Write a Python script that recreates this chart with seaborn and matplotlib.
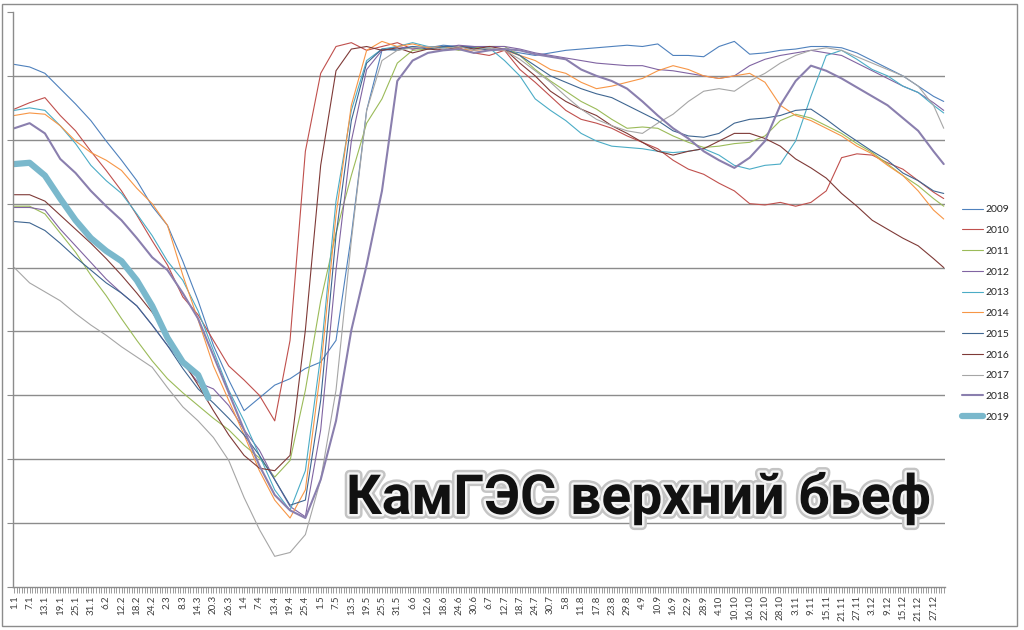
import matplotlib
matplotlib.use("Agg")
import matplotlib.pyplot as plt
import matplotlib.patheffects as pe
from matplotlib.patches import Rectangle
from matplotlib.ticker import MultipleLocator
import numpy as np
import pandas as pd
import seaborn as sns

# day of year (0 = 1 Jan), sampled every 6 days plus the last day
DAYS = list(range(0, 361, 6)) + [364]
DAYS_2019 = list(range(0, 73, 6)) + [76]

TICK_DAYS = list(range(0, 361, 6))
TICK_LABELS = [
    "1.1", "7.1", "13.1", "19.1", "25.1", "31.1", "6.2", "12.2", "18.2", "24.2",
    "2.3", "8.3", "14.3", "20.3", "26.3", "1.4", "7.4", "13.4", "19.4", "25.4",
    "1.5", "7.5", "13.5", "19.5", "25.5", "31.5", "6.6", "12.6", "18.6", "24.6",
    "30.6", "6.7", "12.7", "18.7", "24.7", "30.7", "5.8", "11.8", "17.8", "23.8",
    "29.8", "4.9", "10.9", "16.9", "22.9", "28.9", "4.10", "10.10", "16.10", "22.10",
    "28.10", "3.11", "9.11", "15.11", "21.11", "27.11", "3.12", "9.12", "15.12", "21.12",
    "27.12",
]

# upper pool level, m
LEVEL_2009 = [
    108.09, 108.07, 108.02, 107.90, 107.78, 107.65, 107.49, 107.34, 107.18, 106.98,
    106.83, 106.55, 106.24, 105.89, 105.62, 105.38, 105.48, 105.58, 105.63, 105.71,
    105.76, 105.93, 106.75, 107.73, 108.20, 108.21, 108.23, 108.22, 108.24, 108.23,
    108.23, 108.21, 108.20, 108.18, 108.16, 108.18, 108.20, 108.21, 108.22, 108.23,
    108.24, 108.23, 108.25, 108.16, 108.16, 108.15, 108.23, 108.27, 108.17, 108.18,
    108.20, 108.21, 108.23, 108.23, 108.22, 108.18, 108.12, 108.06, 108.00, 107.92,
    107.84, 107.80,
]
LEVEL_2010 = [
    107.74, 107.79, 107.83, 107.69, 107.57, 107.41, 107.26, 107.10, 106.91, 106.71,
    106.52, 106.27, 106.13, 105.93, 105.73, 105.62, 105.50, 105.30, 105.93, 107.41,
    108.02, 108.23, 108.26, 108.20, 108.23, 108.26, 108.21, 108.23, 108.20, 108.22,
    108.18, 108.16, 108.20, 108.05, 107.95, 107.84, 107.73, 107.66, 107.63, 107.59,
    107.53, 107.48, 107.43, 107.34, 107.27, 107.23, 107.16, 107.10, 107.00, 106.99,
    107.01, 106.98, 107.01, 107.10, 107.36, 107.39, 107.38, 107.32, 107.27, 107.18,
    107.09, 107.04,
]
LEVEL_2011 = [
    106.98, 106.98, 106.92, 106.77, 106.62, 106.44, 106.28, 106.10, 105.93, 105.77,
    105.63, 105.52, 105.42, 105.32, 105.23, 105.11, 105.01, 104.86, 104.99, 105.54,
    106.24, 106.77, 107.22, 107.63, 107.82, 108.10, 108.20, 108.21, 108.23, 108.20,
    108.22, 108.23, 108.23, 108.16, 108.05, 107.96, 107.88, 107.80, 107.74, 107.66,
    107.59, 107.60, 107.59, 107.53, 107.48, 107.44, 107.45, 107.47, 107.48, 107.53,
    107.65, 107.70, 107.67, 107.61, 107.55, 107.47, 107.40, 107.31, 107.22, 107.14,
    107.04, 106.98,
]
LEVEL_2012 = [
    106.97, 106.97, 106.95, 106.80, 106.67, 106.54, 106.41, 106.30, 106.20, 106.05,
    105.89, 105.75, 105.60, 105.55, 105.42, 105.23, 105.07, 104.84, 104.63, 104.55,
    105.23, 106.48, 107.49, 108.05, 108.20, 108.23, 108.21, 108.23, 108.22, 108.24,
    108.23, 108.23, 108.23, 108.21, 108.18, 108.16, 108.14, 108.12, 108.10, 108.09,
    108.08, 108.08, 108.05, 108.04, 108.02, 108.00, 107.98, 108.00, 108.08, 108.13,
    108.16, 108.18, 108.20, 108.18, 108.16, 108.10, 108.04, 107.98, 107.92, 107.87,
    107.79, 107.73,
]
LEVEL_2013 = [
    107.73, 107.75, 107.73, 107.61, 107.47, 107.30, 107.18, 107.08, 106.92, 106.75,
    106.55, 106.40, 106.16, 105.85, 105.54, 105.30, 105.03, 104.76, 104.60, 104.91,
    105.81, 107.02, 107.73, 108.12, 108.21, 108.23, 108.26, 108.23, 108.22, 108.23,
    108.21, 108.22, 108.12, 108.00, 107.82, 107.73, 107.65, 107.55, 107.49, 107.45,
    107.44, 107.43, 107.41, 107.40, 107.41, 107.43, 107.38, 107.30, 107.27, 107.30,
    107.31, 107.49, 107.84, 108.16, 108.20, 108.13, 108.05, 108.00, 107.92, 107.87,
    107.77, 107.71,
]
LEVEL_2014 = [
    107.69, 107.71, 107.70, 107.61, 107.49, 107.40, 107.34, 107.26, 107.12, 107.00,
    106.83, 106.44, 106.09, 105.73, 105.46, 105.19, 104.91, 104.68, 104.54, 104.76,
    105.70, 106.91, 107.77, 108.20, 108.27, 108.23, 108.25, 108.22, 108.23, 108.21,
    108.20, 108.21, 108.20, 108.16, 108.12, 108.05, 108.02, 107.95, 107.90, 107.92,
    107.95, 107.98, 108.04, 108.08, 108.05, 108.00, 107.98, 108.00, 108.02, 107.95,
    107.77, 107.69, 107.65, 107.59, 107.53, 107.45, 107.39, 107.30, 107.22, 107.10,
    106.95, 106.88,
]
LEVEL_2015 = [
    106.86, 106.85, 106.79, 106.69, 106.58, 106.48, 106.38, 106.30, 106.20, 106.05,
    105.89, 105.71, 105.55, 105.44, 105.32, 105.19, 105.03, 104.84, 104.64, 104.68,
    105.46, 106.75, 107.65, 108.10, 108.21, 108.20, 108.23, 108.21, 108.23, 108.23,
    108.22, 108.20, 108.21, 108.16, 108.08, 108.00, 107.95, 107.90, 107.86, 107.83,
    107.77, 107.71, 107.65, 107.57, 107.53, 107.52, 107.55, 107.63, 107.66, 107.67,
    107.69, 107.73, 107.74, 107.66, 107.57, 107.49, 107.41, 107.34, 107.24, 107.18,
    107.10, 107.08,
]
LEVEL_2016 = [
    107.07, 107.07, 107.02, 106.91, 106.80, 106.69, 106.57, 106.44, 106.30, 106.15,
    105.97, 105.77, 105.58, 105.38, 105.19, 105.03, 104.93, 104.91, 105.03, 106.01,
    107.30, 108.04, 108.21, 108.23, 108.20, 108.22, 108.18, 108.21, 108.20, 108.23,
    108.21, 108.23, 108.21, 108.10, 108.00, 107.88, 107.80, 107.74, 107.69, 107.61,
    107.55, 107.48, 107.41, 107.38, 107.41, 107.43, 107.49, 107.55, 107.55, 107.51,
    107.45, 107.35, 107.28, 107.20, 107.08, 106.98, 106.87, 106.80, 106.73, 106.67,
    106.57, 106.50,
]
LEVEL_2017 = [
    106.50, 106.38, 106.31, 106.24, 106.14, 106.05, 105.97, 105.88, 105.80, 105.72,
    105.56, 105.41, 105.30, 105.17, 104.99, 104.70, 104.45, 104.24, 104.27, 104.41,
    104.84, 105.54, 106.71, 107.73, 108.12, 108.20, 108.22, 108.23, 108.21, 108.23,
    108.20, 108.22, 108.20, 108.13, 108.04, 107.95, 107.84, 107.74, 107.66, 107.61,
    107.57, 107.55, 107.63, 107.70, 107.80, 107.88, 107.90, 107.88, 107.96, 108.02,
    108.10, 108.16, 108.20, 108.22, 108.20, 108.15, 108.10, 108.05, 108.00, 107.92,
    107.77, 107.59,
]
LEVEL_2018 = [
    107.59, 107.63, 107.55, 107.35, 107.24, 107.10, 106.98, 106.87, 106.73, 106.58,
    106.48, 106.30, 106.10, 105.81, 105.52, 105.23, 104.95, 104.72, 104.60, 104.54,
    104.84, 105.30, 106.01, 106.52, 107.10, 107.96, 108.12, 108.18, 108.20, 108.21,
    108.18, 108.20, 108.21, 108.20, 108.17, 108.15, 108.13, 108.05, 108.00, 107.96,
    107.90, 107.80, 107.69, 107.59, 107.51, 107.41, 107.34, 107.28, 107.36, 107.49,
    107.77, 107.96, 108.08, 108.04, 107.98, 107.91, 107.84, 107.77, 107.67, 107.57,
    107.41, 107.31,
]
LEVEL_2019 = [
    107.31, 107.32, 107.22, 107.04, 106.87, 106.73, 106.63, 106.55, 106.40, 106.20,
    105.95, 105.76, 105.66, 105.48,
]

YEARS = [2009, 2010, 2011, 2012, 2013, 2014, 2015, 2016, 2017, 2018, 2019]
SERIES = [LEVEL_2009, LEVEL_2010, LEVEL_2011, LEVEL_2012, LEVEL_2013, LEVEL_2014,
          LEVEL_2015, LEVEL_2016, LEVEL_2017, LEVEL_2018, LEVEL_2019]
COLORS = ["#4f81bd", "#c0504d", "#9bbb59", "#8064a2", "#4bacc6", "#f79646",
          "#3f6691", "#7f3a37", "#a6a6a6", "#8a7fae", "#7ab8cc"]
WIDTHS = [0.8] * 9 + [1.5, 4.5]

rows = []
for year, levels in zip(YEARS, SERIES):
    days = DAYS_2019 if year == 2019 else DAYS
    for d, v in zip(days, levels):
        rows.append({"year": year, "day": d, "level": v})
df = pd.DataFrame(rows)

sns.set_theme(style="white")
plt.rcParams["font.family"] = ["Lato", "DejaVu Sans"]

fig, ax = plt.subplots(figsize=(10.24, 6.30), dpi=100)
fig.subplots_adjust(left=13 / 1024, right=945 / 1024, bottom=1 - 587 / 630, top=1 - 12 / 630)

for year, color, lw in zip(YEARS, COLORS, WIDTHS):
    sns.lineplot(data=df[df["year"] == year], x="day", y="level", color=color,
                 linewidth=lw, label=str(year), ax=ax)

ax.set_xlim(-0.5, 364.5)
ax.set_ylim(104.0, 108.5)
ax.set_yticks(np.arange(104.0, 108.51, 0.5))
ax.set_yticklabels([])
ax.grid(axis="y", color="#8c8c8c", linewidth=1)
gl = ax.get_ygridlines()
gl[0].set_visible(False)
gl[-1].set_visible(False)

ax.set_xticks(TICK_DAYS)
ax.set_xticklabels(TICK_LABELS, rotation=90, fontsize=7, color="#404040")
ax.xaxis.set_minor_locator(MultipleLocator(1))
ax.tick_params(axis="x", which="both", bottom=True, length=4, width=0.6, color="#8c8c8c", pad=2)
ax.tick_params(axis="y", which="major", left=True, length=4, width=0.8, color="#8c8c8c")
ax.set_xlabel("")
ax.set_ylabel("")
for side in ["top", "right"]:
    ax.spines[side].set_visible(False)
for side in ["left", "bottom"]:
    ax.spines[side].set_color("#8c8c8c")
    ax.spines[side].set_linewidth(1)

ax.legend(loc="upper left", bbox_to_anchor=(962 / 1024, 1 - 205 / 630),
          bbox_transform=fig.transFigure, frameon=False, fontsize=7.5,
          handlelength=2.0, handletextpad=0.3, labelspacing=1.1,
          borderaxespad=0, borderpad=0)

title = fig.text(346 / 1024, 1 - 514 / 630, "КамГЭС верхний бьеф", fontsize=44,
                 fontweight="bold", family=["Roboto", "DejaVu Sans"],
                 color="#111111", ha="left", va="baseline",
                 path_effects=[pe.Stroke(linewidth=7, foreground="#c4c4c4"),
                               pe.Stroke(linewidth=3.5, foreground="#f4f4f4"),
                               pe.Normal()])
# fit the title to the width it takes in the reference (about 585 px)
fig.canvas.draw()
w = title.get_window_extent().width
title.set_fontsize(44 * 585 / w)

fig.add_artist(Rectangle((2 / 1024, 4 / 630), 1015 / 1024, 622 / 630,
                         transform=fig.transFigure, fill=False,
                         edgecolor="#8c8c8c", linewidth=1))

plt.savefig("out.png", dpi=100)
plt.close()
